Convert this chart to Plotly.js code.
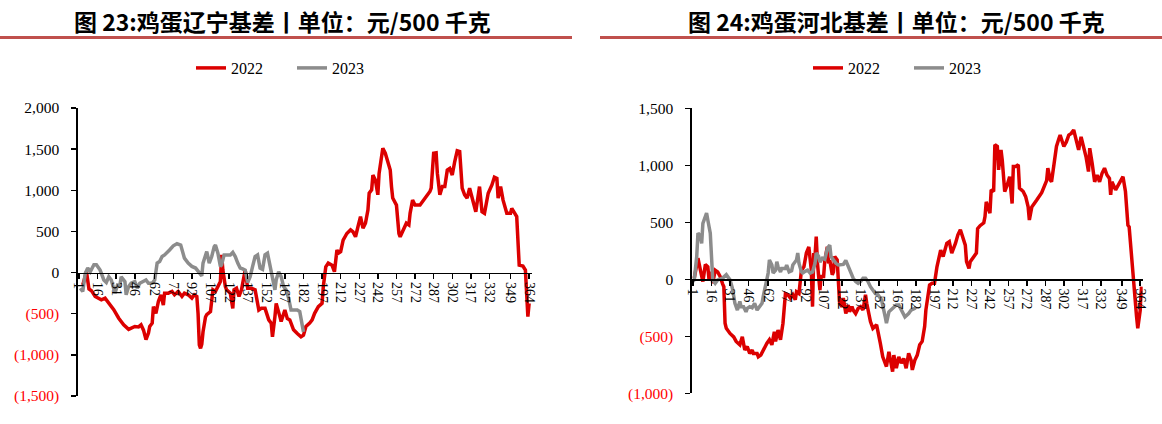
<!DOCTYPE html>
<html>
<head>
<meta charset="utf-8">
<script src="https://cdn.plot.ly/plotly-3.0.1.min.js"></script>
<style>
  html, body { margin: 0; padding: 0; background: #fff; }
  #chart { width: 1162px; height: 424px; }
</style>
</head>
<body>
<div id="chart"></div>
<script>
// x tick labels (day of year, every 15th category)
const dayTicks = [1, 16, 31, 46, 62, 77, 92, 107, 122, 137, 152, 167, 182, 197, 212, 227, 242, 257, 272, 287, 302, 317, 332, 349, 364];

// 图23 辽宁
const lnTicksY = [-1500, -1000, -500, 0, 500, 1000, 1500, 2000];
const lnDays2022 = [
  4, 7, 9, 11, 14, 17, 19, 22, 25, 29,
  33, 37, 41, 44, 46, 49, 51, 53, 55, 57,
  58, 60, 61, 63, 65, 67, 69, 70, 73, 76,
  78, 81, 84, 86, 89, 92, 94, 96, 97, 98,
  99, 100, 101, 103, 104, 107, 109, 111, 113, 115,
  116, 117, 119, 120, 123, 125, 126, 128, 130, 132,
  135, 137, 140, 143, 146, 148, 151, 154, 156, 157,
  159, 160, 163, 164, 167, 169, 171, 174, 177, 180,
  182, 184, 187, 189, 191, 194, 197, 198, 200, 202,
  205, 207, 209, 210, 212, 214, 217, 220, 222, 224,
  226, 228, 230, 232, 234, 235, 237, 238, 240, 242,
  243, 246, 248, 250, 252, 253, 254, 257, 259, 260,
  263, 265, 267, 268, 270, 272, 276, 280, 284, 285,
  287, 289, 290, 292, 294, 296, 298, 300, 302, 304,
  306, 308, 310, 312, 314, 316, 318, 320, 321, 324,
  326, 328, 331, 334, 336, 338, 339, 341, 343, 346,
  349, 350, 353, 354, 356, 359, 361, 362, 363, 364
];
const ln2022 = [
  -150, 10, -200, -220, -290, -310, -330, -310, -370, -450,
  -555, -635, -690, -675, -655, -660, -635, -700, -815, -735,
  -655, -615, -415, -495, -350, -270, -395, -250, -250, -230,
  -270, -230, -290, -250, -270, -310, -270, -290, -500, -880,
  -920, -870, -720, -540, -510, -475, -210, -230, -170, -110,
  215, 30, -170, -210, -250, -435, -210, -190, -290, -210,
  30, -190, -190, -210, -455, -435, -435, -575, -615, -780,
  -535, -375, -535, -595, -455, -560, -575, -695, -740, -780,
  -760, -655, -615, -575, -495, -415, -375, -170, 70, 115,
  90, 10, 275, 235, 255, 395, 475, 520, 495, 435,
  560, 680, 540, 600, 760, 965, 1005, 1185, 1125, 945,
  1205, 1510, 1450, 1350, 1245, 1045, 905, 820, 475, 435,
  540, 600, 580, 720, 880, 820, 820, 905, 985, 1025,
  1450, 1455, 1205, 945, 1045, 1045, 1245, 1265, 1185, 1350,
  1480, 1470, 1025, 945, 905, 1025, 920, 780, 740, 1045,
  740, 720, 965, 1065, 1160, 1145, 905, 1045, 880, 720,
  720, 780, 700, 680, 90, 80, 30, -210, -535, -375
];
const lnDays2023 = [
  2, 4, 6, 8, 10, 13, 15, 18, 21, 23,
  25, 27, 30, 32, 34, 35, 38, 39, 41, 43,
  46, 48, 50, 53, 55, 57, 60, 62, 64, 66,
  68, 70, 73, 74, 77, 80, 83, 85, 86, 89,
  92, 95, 97, 100, 101, 104, 106, 108, 110, 111,
  113, 115, 116, 118, 121, 123, 125, 127, 129, 131,
  133, 135, 137, 139, 141, 143, 145, 147, 149, 151,
  153, 155, 156, 158, 159, 160, 162, 164, 166, 168,
  170, 172, 175, 177, 179, 180, 182
];
const ln2023 = [
  -190, -230, -10, 55, 10, 95, 95, 30, -90, -120,
  -50, -90, -250, -150, -150, -50, -110, -270, -170, -130,
  -110, -190, -130, -110, -90, -130, -130, -90, 115, 135,
  195, 215, 255, 275, 325, 350, 335, 235, 175, 115,
  75, 55, 10, -40, 115, 255, 115, 195, 315, 335,
  235, 75, 95, 215, 215, 215, 245, 195, 115, 55,
  45, 30, -120, -50, 75, 195, 215, 55, 40, 215,
  235, 95, 40, -90, -210, -90, 10, -50, -170, -210,
  -310, -455, -455, -455, -475, -560, -720
];

// 图24 河北
const hbTicksY = [-1000, -500, 0, 500, 1000, 1500];
const hbDays2022 = [
  2, 4, 5, 7, 9, 11, 13, 14, 16, 17,
  19, 21, 23, 25, 26, 27, 28, 31, 34, 36,
  39, 41, 43, 45, 47, 49, 50, 53, 54, 56,
  58, 61, 63, 65, 67, 68, 70, 72, 74, 75,
  76, 78, 80, 82, 84, 85, 87, 89, 91, 93,
  95, 97, 98, 99, 100, 101, 102, 104, 105, 107,
  108, 110, 111, 112, 114, 115, 116, 118, 119, 120,
  122, 123, 125, 127, 128, 130, 131, 133, 135, 137,
  139, 141, 142, 145, 147, 150, 153, 155, 158, 160,
  161, 163, 164, 166, 168, 170, 172, 174, 176, 178,
  179, 181, 183, 185, 187, 189, 190, 192, 193, 195,
  197, 199, 200, 202, 204, 206, 207, 209, 211, 214,
  216, 218, 220, 222, 223, 225, 226, 229, 231, 232,
  234, 237, 238, 239, 242, 243, 245, 246, 248, 249,
  251, 252, 254, 256, 258, 260, 261, 263, 265, 266,
  269, 271, 273, 274, 276, 280, 284, 288, 289, 291,
  292, 294, 296, 298, 299, 302, 304, 306, 308, 310,
  312, 314, 316, 318, 320, 322, 323, 325, 327, 329,
  331, 333, 335, 337, 339, 340, 341, 344, 346, 350,
  352, 354, 355, 357, 359, 361, 362, 364, 365
];
const hb2022 = [
  10, 110, 185, 80, -20, 130, 110, -5, 65, -35,
  80, 65, 25, -40, -65, -385, -430, -475, -505, -545,
  -575, -505, -620, -590, -650, -620, -650, -650, -680, -665,
  -620, -560, -530, -575, -460, -545, -445, -530, -385, -210,
  -125, -135, -165, -135, -180, -110, -125, 80, 110, 230,
  285, 80, -240, 230, 200, 375, 140, -95, 25, 25,
  170, 285, 140, 170, 40, 65, 200, 170, -95, -210,
  -240, -165, -300, -225, -285, -240, -270, -300, -255, -240,
  -270, -135, -210, -370, -430, -400, -560, -680, -765, -635,
  -695, -810, -665, -780, -680, -735, -695, -780, -650, -710,
  -795, -710, -665, -575, -545, -415, -270, -150, -50, -35,
  -35, 110, 170, 255, 200, 270, 315, 330, 230, 315,
  390, 435, 375, 300, 155, 95, 155, 200, 230, 445,
  470, 495, 550, 680, 580, 785, 770, 1180, 1165, 960,
  1135, 1045, 770, 825, 900, 665, 990, 990, 1005, 800,
  770, 725, 635, 520, 635, 695, 760, 865, 975, 870,
  855, 1010, 1165, 1235, 1265, 1165, 1205, 1265, 1280, 1310,
  1235, 1135, 1250, 1165, 1075, 945, 1150, 1015, 855, 915,
  855, 930, 975, 915, 885, 740, 855, 785, 825, 900,
  770, 475, 460, 230, -65, -325, -430, -270, -65
];
const hbDays2023 = [
  1, 2, 4, 5, 7, 8, 9, 11, 12, 13,
  15, 16, 17, 19, 21, 25, 28, 31, 33, 35,
  37, 39, 40, 42, 44, 45, 47, 49, 51, 53,
  55, 57, 58, 59, 61, 62, 63, 65, 66, 68,
  69, 70, 72, 73, 76, 77, 79, 81, 82, 85,
  86, 87, 89, 90, 92, 94, 96, 98, 100, 101,
  103, 104, 106, 108, 110, 112, 113, 115, 117, 119,
  121, 123, 125, 127, 129, 131, 133, 135, 137, 139,
  141, 143, 145, 147, 149, 151, 154, 157, 158, 160,
  163, 166, 168, 171, 173, 176, 178, 181, 182
];
const hb2023 = [
  -20, -5, 200, 405, 375, 315, 490, 550, 580, 520,
  405, 200, -5, -35, -5, 10, 40, -5, -80, -210,
  -270, -195, -240, -240, -285, -255, -240, -250, -210, -270,
  -240, -210, -150, -95, -20, 55, 170, 125, 55, 80,
  155, 110, 65, 95, 95, 125, 65, 75, 125, 170,
  230, 140, 65, 55, 70, 80, 55, 65, 140, 230,
  200, 150, 185, 175, 270, 300, 200, 170, 140, 125,
  130, 130, 165, 110, 55, 10, -20, -35, -20, 10,
  10, -20, -65, -95, -125, -135, -180, -330, -385, -285,
  -255, -225, -225, -285, -330, -300, -270, -255, -240
];

const RED = '#dc0000';
const GREY = '#8c8c8c';
const serif = 'Liberation Serif, Times New Roman, serif';
const W = 1162, H = 424;

function tickText(v) {
  const s = Math.abs(v).toLocaleString('en-US');
  return v < 0 ? '<span style="color:#ff0000">(' + s + ')</span>' : s;
}

function xAxis(left, right, zeroY) {
  return {
    domain: [left / W, right / W],
    range: [0, 366],
    anchor: 'free',
    position: 1 - zeroY / H,
    tickmode: 'array',
    tickvals: dayTicks,
    ticktext: dayTicks.map(String),
    tickangle: 90,
    ticks: 'outside',
    ticklen: 5,
    tickwidth: 1.5,
    tickcolor: '#000',
    tickfont: { family: serif, size: 14, color: '#000' },
    showline: true,
    linecolor: '#000',
    linewidth: 1.5,
    showgrid: false,
    zeroline: false,
    fixedrange: true
  };
}

function yAxis(top, bottom, ticks, anchor) {
  return {
    domain: [1 - bottom / H, 1 - top / H],
    range: [ticks[0], ticks[ticks.length - 1]],
    anchor: anchor,
    tickmode: 'array',
    tickvals: ticks,
    ticktext: ticks.map(tickText),
    ticks: 'outside',
    ticklen: 5,
    tickwidth: 1.5,
    tickcolor: '#000',
    ticklabelstandoff: 9,
    tickfont: { family: serif, size: 15.5, color: '#000' },
    showline: true,
    linecolor: '#000',
    linewidth: 1.5,
    showgrid: false,
    zeroline: false,
    fixedrange: true
  };
}

const traces = [
  { x: lnDays2022, y: ln2022, name: '2022', type: 'scatter', mode: 'lines',
    line: { color: RED, width: 3.5 }, xaxis: 'x', yaxis: 'y', legend: 'legend' },
  { x: lnDays2023, y: ln2023, name: '2023', type: 'scatter', mode: 'lines',
    line: { color: GREY, width: 3.5 }, xaxis: 'x', yaxis: 'y', legend: 'legend' },
  { x: hbDays2022, y: hb2022, name: '2022', type: 'scatter', mode: 'lines',
    line: { color: RED, width: 3.5 }, xaxis: 'x2', yaxis: 'y2', legend: 'legend2' },
  { x: hbDays2023, y: hb2023, name: '2023', type: 'scatter', mode: 'lines',
    line: { color: GREY, width: 3.5 }, xaxis: 'x2', yaxis: 'y2', legend: 'legend2' }
];

const legendBase = {
  orientation: 'h',
  xanchor: 'center',
  yanchor: 'middle',
  y: 1 - 68 / H,
  font: { family: serif, size: 16, color: '#000' },
  bgcolor: 'rgba(0,0,0,0)',
  itemwidth: 30,
  entrywidth: 56,
  traceorder: 'normal'
};

const layout = {
  width: W,
  height: H,
  margin: { l: 0, r: 0, t: 0, b: 0 },
  paper_bgcolor: '#fff',
  plot_bgcolor: '#fff',
  showlegend: true,
  xaxis: xAxis(77.8, 531.6, 272.6),
  yaxis: yAxis(108, 396, lnTicksY, 'x'),
  xaxis2: xAxis(691.8, 1142.7, 279.3),
  yaxis2: yAxis(108.3, 393.3, hbTicksY, 'x2'),
  legend: Object.assign({}, legendBase, { x: 292 / W }),
  legend2: Object.assign({}, legendBase, { x: 909 / W }),
  annotations: [
    { text: '图 23:鸡蛋辽宁基差丨单位：元/500 千克', x: 282 / W, y: 1 - 21 / H },
    { text: '图 24:鸡蛋河北基差丨单位：元/500 千克', x: 896 / W, y: 1 - 21 / H }
  ].map(a => Object.assign(a, {
    xref: 'paper', yref: 'paper', xanchor: 'center', yanchor: 'middle', showarrow: false,
    font: { family: 'Noto Sans CJK SC', size: 23, weight: 'bold', color: '#000' }
  })),
  shapes: [
    { x0: 0, x1: 572 / W },
    { x0: 600 / W, x1: 1 }
  ].map(s => Object.assign(s, {
    type: 'line', xref: 'paper', yref: 'paper', y0: 1 - 37.5 / H, y1: 1 - 37.5 / H,
    line: { color: '#c0504d', width: 3 }
  }))
};

Plotly.newPlot('chart', traces, layout, { displayModeBar: false, staticPlot: true });
</script>
</body>
</html>
